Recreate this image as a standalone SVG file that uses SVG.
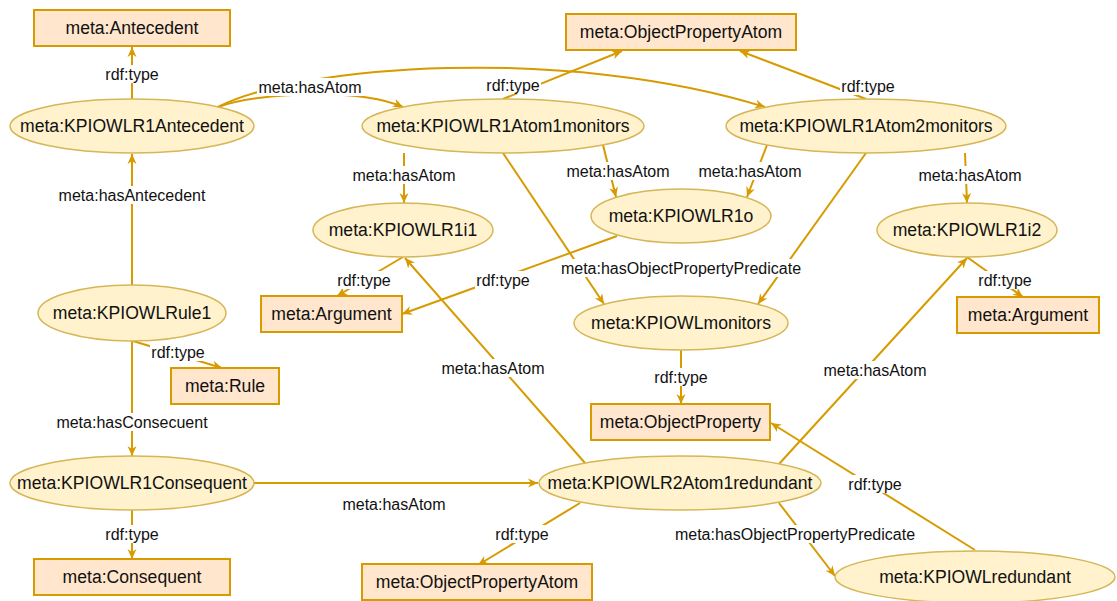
<svg xmlns="http://www.w3.org/2000/svg" width="1117" height="601" viewBox="0 0 1117 601">
  <defs>
    <style>
      .edge { fill: none; stroke: #D79B00; stroke-width: 2; marker-end: url(#arr); }
      .lbg { fill: #ffffff; }
      .lbl { font-family: "Liberation Sans", Arial, sans-serif; font-size: 16px; fill: #111; text-anchor: middle; }
      .inst ellipse { fill: #FFF2CC; stroke: #D6B656; stroke-width: 1.5; }
      .cls rect { fill: #FFE6CC; stroke: #D79B00; stroke-width: 2; }
      .nt { font-family: "Liberation Sans", Arial, sans-serif; font-size: 17.6px; fill: #111; text-anchor: middle; }
    </style>
    <marker id="arr" viewBox="0 0 10 10" refX="10" refY="5" markerWidth="10" markerHeight="10" markerUnits="userSpaceOnUse" orient="auto">
      <path d="M0,0.5 L10,5 L0,9.5 L3,5 z" fill="#D79B00"/>
    </marker>
  </defs>
  <rect width="1117" height="601" fill="#ffffff"/>

  <g id="connectors">
    <path class="edge" d="M132,99 L132,47"/>
    <path class="edge" d="M132,285 L132,154"/>
    <path class="edge" d="M132,341 L132,456"/>
    <path class="edge" d="M133,341 L222,368"/>
    <path class="edge" d="M132,510 L132,559"/>
    <path class="edge" d="M254,483 L538,483"/>
    <path class="edge" d="M218,107 C300,65 565,45 765,107"/>
    <path class="edge" d="M218,107 C260,92 360,88 403,107"/>
    <path class="edge" d="M503,99 L622,51"/>
    <path class="edge" d="M866,99 L740,51"/>
    <path class="edge" d="M404,153 L404,203"/>
    <path class="edge" d="M603,145 L616,197"/>
    <path class="edge" d="M767,145 L747,197"/>
    <path class="edge" d="M965,153 L967,203"/>
    <path class="edge" d="M503,153 L604,304"/>
    <path class="edge" d="M866,153 L758,304"/>
    <path class="edge" d="M681,350 L681,404"/>
    <path class="edge" d="M403,257 L337,296"/>
    <path class="edge" d="M617,236 L402,314"/>
    <path class="edge" d="M585,463 L405,258"/>
    <path class="edge" d="M779,464 L967,258"/>
    <path class="edge" d="M580,503 L478,565"/>
    <path class="edge" d="M779,503 L835,576"/>
    <path class="edge" d="M975,550 L771,423"/>
    <path class="edge" d="M967,257 L1023,297"/>

    <!-- edge labels: white box, then text -->
    <rect class="lbg" x="104" y="65" width="56" height="18"/><text class="lbl" x="132" y="79.7">rdf:type</text>
    <rect class="lbg" x="57" y="186" width="150" height="18"/><text class="lbl" x="132" y="200.7">meta:hasAntecedent</text>
    <rect class="lbg" x="55" y="413" width="154" height="18"/><text class="lbl" x="132" y="427.7">meta:hasConsecuent</text>
    <rect class="lbg" x="150" y="343" width="56" height="18"/><text class="lbl" x="178" y="357.7">rdf:type</text>
    <rect class="lbg" x="104" y="525" width="56" height="18"/><text class="lbl" x="132" y="539.7">rdf:type</text>
    <text class="lbl" x="394" y="509.7">meta:hasAtom</text>
    <rect class="lbg" x="257" y="78" width="106" height="18"/><text class="lbl" x="310" y="92.7">meta:hasAtom</text>
    <rect class="lbg" x="485" y="76" width="56" height="18"/><text class="lbl" x="513" y="90.7">rdf:type</text>
    <rect class="lbg" x="840" y="77" width="56" height="18"/><text class="lbl" x="868" y="91.7">rdf:type</text>
    <rect class="lbg" x="351" y="166" width="106" height="18"/><text class="lbl" x="404" y="180.7">meta:hasAtom</text>
    <rect class="lbg" x="565" y="162" width="106" height="18"/><text class="lbl" x="618" y="176.7">meta:hasAtom</text>
    <rect class="lbg" x="697" y="162" width="106" height="18"/><text class="lbl" x="750" y="176.7">meta:hasAtom</text>
    <rect class="lbg" x="917" y="166" width="106" height="18"/><text class="lbl" x="970" y="180.7">meta:hasAtom</text>
    <rect class="lbg" x="560" y="259" width="242" height="18"/><text class="lbl" x="681" y="273.7">meta:hasObjectPropertyPredicate</text>
    <rect class="lbg" x="653" y="368" width="56" height="18"/><text class="lbl" x="681" y="382.7">rdf:type</text>
    <rect class="lbg" x="336" y="271" width="56" height="18"/><text class="lbl" x="364" y="285.7">rdf:type</text>
    <rect class="lbg" x="475" y="271" width="56" height="18"/><text class="lbl" x="503" y="285.7">rdf:type</text>
    <rect class="lbg" x="440" y="359" width="106" height="18"/><text class="lbl" x="493" y="373.7">meta:hasAtom</text>
    <rect class="lbg" x="822" y="361" width="106" height="18"/><text class="lbl" x="875" y="375.7">meta:hasAtom</text>
    <rect class="lbg" x="494" y="525" width="56" height="18"/><text class="lbl" x="522" y="539.7">rdf:type</text>
    <rect class="lbg" x="674" y="525" width="242" height="18"/><text class="lbl" x="795" y="539.7">meta:hasObjectPropertyPredicate</text>
    <rect class="lbg" x="847" y="475" width="56" height="18"/><text class="lbl" x="875" y="489.7">rdf:type</text>
    <rect class="lbg" x="977" y="271" width="56" height="18"/><text class="lbl" x="1005" y="285.7">rdf:type</text>
  </g>

  <g id="nodes">
    <g id="antecedent" class="cls"><rect x="34" y="10" width="196" height="36"/><text class="nt" x="132" y="34">meta:Antecedent</text></g>
    <g id="opatom-top" class="cls"><rect x="566" y="14" width="230" height="36"/><text class="nt" x="681" y="38">meta:ObjectPropertyAtom</text></g>
    <g id="r1antecedent" class="inst"><ellipse cx="132" cy="126" rx="122" ry="27"/><text class="nt" x="132" y="132">meta:KPIOWLR1Antecedent</text></g>
    <g id="atom1monitors" class="inst"><ellipse cx="503" cy="126" rx="141" ry="27"/><text class="nt" x="503" y="132">meta:KPIOWLR1Atom1monitors</text></g>
    <g id="atom2monitors" class="inst"><ellipse cx="866" cy="126" rx="140" ry="27"/><text class="nt" x="866" y="132">meta:KPIOWLR1Atom2monitors</text></g>
    <g id="r1i1" class="inst"><ellipse cx="403" cy="230" rx="90" ry="27"/><text class="nt" x="403" y="236">meta:KPIOWLR1i1</text></g>
    <g id="r1o" class="inst"><ellipse cx="681" cy="216" rx="90" ry="27"/><text class="nt" x="681" y="222">meta:KPIOWLR1o</text></g>
    <g id="r1i2" class="inst"><ellipse cx="967" cy="230" rx="90" ry="27"/><text class="nt" x="967" y="236">meta:KPIOWLR1i2</text></g>
    <g id="argument-left" class="cls"><rect x="261" y="296" width="141" height="36"/><text class="nt" x="331.5" y="320">meta:Argument</text></g>
    <g id="argument-right" class="cls"><rect x="957" y="297" width="142" height="36"/><text class="nt" x="1028" y="321">meta:Argument</text></g>
    <g id="kpiowlmonitors" class="inst"><ellipse cx="681" cy="323" rx="107" ry="27"/><text class="nt" x="681" y="329">meta:KPIOWLmonitors</text></g>
    <g id="rule1" class="inst"><ellipse cx="132" cy="313" rx="94" ry="28"/><text class="nt" x="132" y="319">meta:KPIOWLRule1</text></g>
    <g id="rule" class="cls"><rect x="171" y="368" width="108" height="36"/><text class="nt" x="225" y="392">meta:Rule</text></g>
    <g id="objectproperty" class="cls"><rect x="591" y="404" width="179" height="36"/><text class="nt" x="680.5" y="428">meta:ObjectProperty</text></g>
    <g id="r1consequent" class="inst"><ellipse cx="132" cy="483" rx="122" ry="27"/><text class="nt" x="132" y="489">meta:KPIOWLR1Consequent</text></g>
    <g id="r2atom1redundant" class="inst"><ellipse cx="680" cy="483" rx="141" ry="27"/><text class="nt" x="680" y="489">meta:KPIOWLR2Atom1redundant</text></g>
    <g id="consequent" class="cls"><rect x="34" y="559" width="196" height="36"/><text class="nt" x="132" y="583">meta:Consequent</text></g>
    <g id="opatom-bottom" class="cls"><rect x="362" y="564" width="230" height="36"/><text class="nt" x="477" y="588">meta:ObjectPropertyAtom</text></g>
    <g id="kpiowlredundant" class="inst"><ellipse cx="975" cy="577" rx="140" ry="26"/><text class="nt" x="975" y="583">meta:KPIOWLredundant</text></g>
  </g>
</svg>
